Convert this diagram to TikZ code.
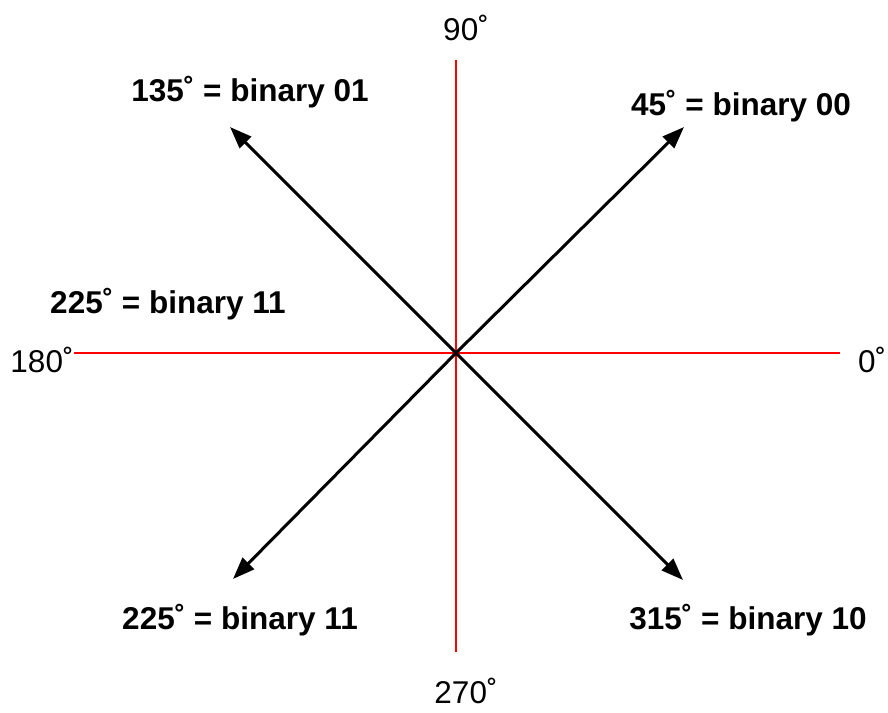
\documentclass[tikz,border=0pt]{standalone}
\usepackage{fontspec}
\setmainfont{Liberation Sans}
\usetikzlibrary{arrows.meta}
\tikzset{
  axisline/.style={red, line width=2pt},
  phasor/.style={line width=3pt, -{Triangle[length=22pt,width=16pt]}},
  anglelabel/.style={font=\fontsize{31.5}{36}\selectfont, inner sep=1pt},
  codelabel/.style={font=\fontsize{31.5}{36}\selectfont\bfseries}
}
\begin{document}
\begin{tikzpicture}[x=1pt,y=-1pt]
\useasboundingbox (0,0) rectangle (888,712);
% axes
\coordinate (o) at (456,353);
\coordinate (east) at (840,353);
\coordinate (west) at (74,353);
\coordinate (north) at (456,60);
\coordinate (south) at (456,652);
\draw[axisline] (west) -- (east);
\draw[axisline] (north) -- (south);
\node[anglelabel] (deg0) at (872,360) {0˚};
\node[anglelabel] (deg90) at (466,28) {90˚};
\node[anglelabel] (deg180) at (42,360) {180˚};
\node[anglelabel] (deg270) at (466,691) {270˚};
% phasors
\coordinate (p45) at (684,127);
\coordinate (p135) at (230,127);
\coordinate (p225) at (233,579);
\coordinate (p315) at (683,580);
\draw[phasor] (o) -- (p45);
\draw[phasor] (o) -- (p135);
\draw[phasor] (o) -- (p225);
\draw[phasor] (o) -- (p315);
\node[codelabel] (code45) at (741,106) {45˚ = binary 00};
\node[codelabel] (code135) at (250,92) {135˚ = binary 01};
\node[codelabel] (code225a) at (168,304) {225˚ = binary 11};
\node[codelabel] (code225b) at (240,620) {225˚ = binary 11};
\node[codelabel] (code315) at (748,620) {315˚ = binary 10};
\end{tikzpicture}
\end{document}
